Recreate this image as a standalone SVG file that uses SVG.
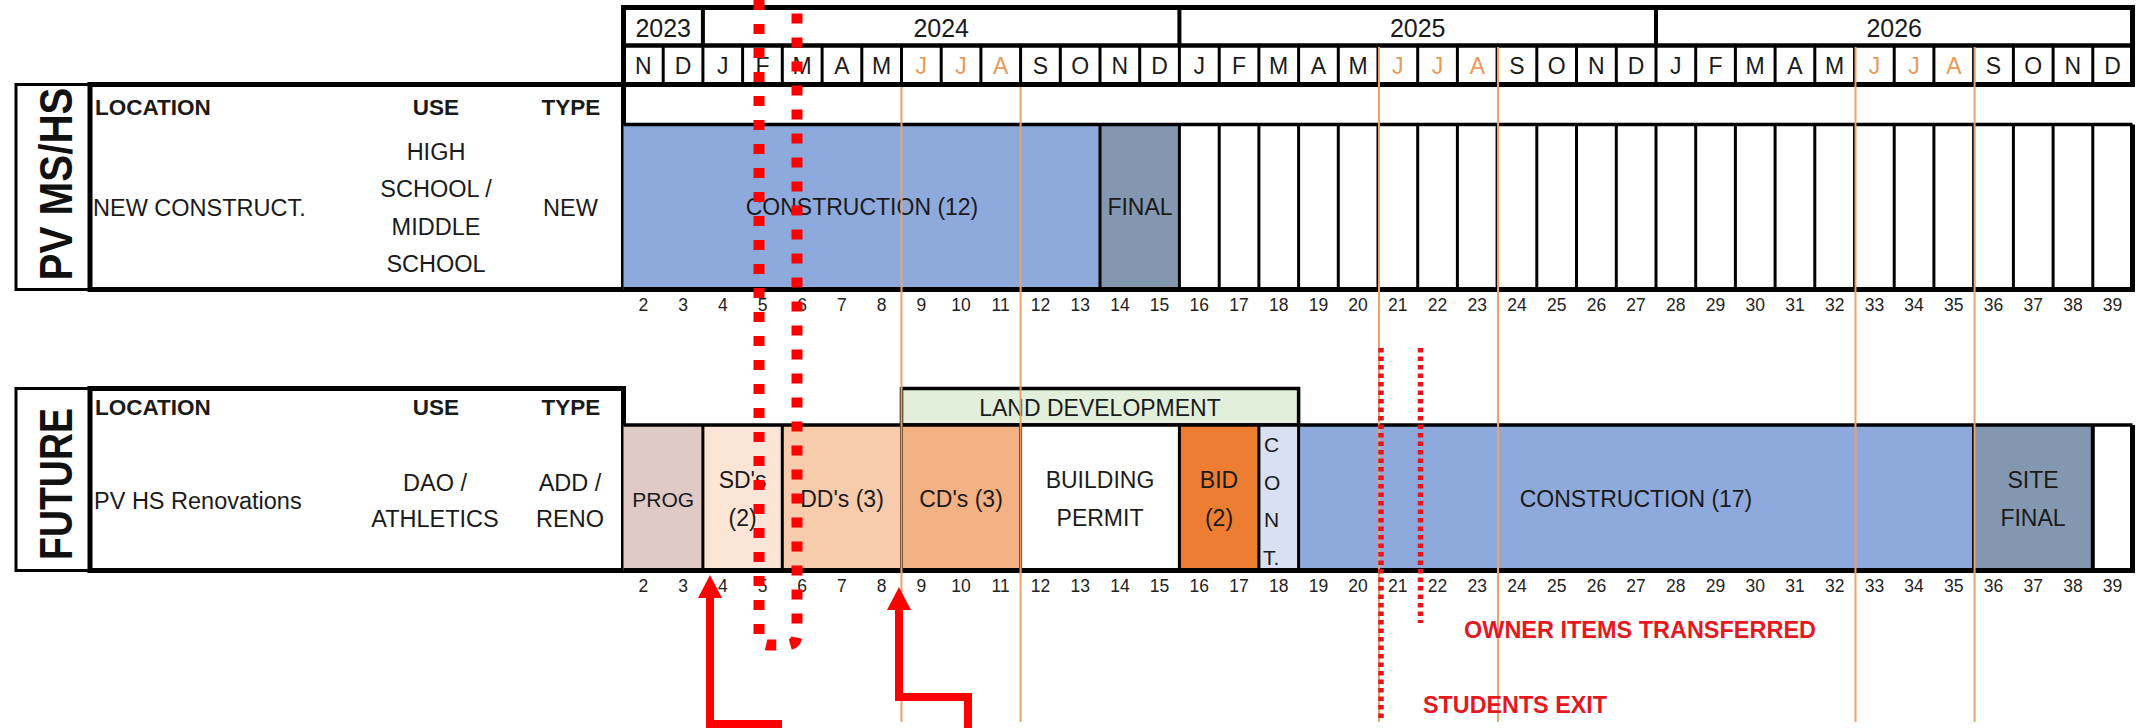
<svg xmlns="http://www.w3.org/2000/svg" width="2139" height="728" viewBox="0 0 2139 728">
<style>
text { font-family: "Liberation Sans", Arial, sans-serif; fill: #1a1a1a; }
.yr { font-size: 25px; text-anchor: middle; }
.mo { font-size: 23px; text-anchor: middle; }
.su { fill: #E89A58; }
.num { font-size: 17.5px; text-anchor: middle; fill: #222; }
.hd { font-size: 22.5px; font-weight: bold; }
.tx { font-size: 23.5px; }
.c { text-anchor: middle; }
.bt { font-size: 23px; text-anchor: middle; }
.side { font-size: 46px; font-weight: bold; text-anchor: middle; fill: #111; }
.red { fill: #E3191F; font-weight: bold; font-size: 23px; }
.ln3 { stroke: #000; stroke-width: 3; fill: none; }
.ln5 { stroke: #000; stroke-width: 5; fill: none; }
.box3 { stroke: #000; stroke-width: 3; }
.summer { stroke: #EBA36C; stroke-width: 2; fill: none; }
.arrow { stroke: #FF0000; stroke-width: 8; fill: none; stroke-linejoin: miter; }
.bigdot { stroke: #FF0000; stroke-width: 11; fill: none; stroke-dasharray: 10 14; }
.smalldot { stroke: #E8141A; stroke-width: 5.5; fill: none; stroke-dasharray: 4.5 4; }
</style>
<defs>
<marker id="head" markerUnits="userSpaceOnUse" markerWidth="24" markerHeight="24" viewBox="0 0 22 23" refX="0" refY="11.5" orient="auto">
<path d="M0 0 L22 11.5 L0 23 Z" fill="#FF0000"/>
</marker>
<g id="nums">
<text class="num" x="643.4" y="0">2</text><text class="num" x="683.1" y="0">3</text><text class="num" x="722.8" y="0">4</text><text class="num" x="762.5" y="0">5</text><text class="num" x="802.2" y="0">6</text><text class="num" x="841.9" y="0">7</text><text class="num" x="881.6" y="0">8</text><text class="num" x="921.3" y="0">9</text><text class="num" x="961.0" y="0">10</text><text class="num" x="1000.7" y="0">11</text><text class="num" x="1040.5" y="0">12</text><text class="num" x="1080.2" y="0">13</text><text class="num" x="1119.9" y="0">14</text><text class="num" x="1159.6" y="0">15</text><text class="num" x="1199.3" y="0">16</text><text class="num" x="1239.0" y="0">17</text><text class="num" x="1278.7" y="0">18</text><text class="num" x="1318.4" y="0">19</text><text class="num" x="1358.1" y="0">20</text><text class="num" x="1397.8" y="0">21</text><text class="num" x="1437.6" y="0">22</text><text class="num" x="1477.3" y="0">23</text><text class="num" x="1517.0" y="0">24</text><text class="num" x="1556.7" y="0">25</text><text class="num" x="1596.4" y="0">26</text><text class="num" x="1636.1" y="0">27</text><text class="num" x="1675.8" y="0">28</text><text class="num" x="1715.5" y="0">29</text><text class="num" x="1755.2" y="0">30</text><text class="num" x="1794.9" y="0">31</text><text class="num" x="1834.7" y="0">32</text><text class="num" x="1874.4" y="0">33</text><text class="num" x="1914.1" y="0">34</text><text class="num" x="1953.8" y="0">35</text><text class="num" x="1993.5" y="0">36</text><text class="num" x="2033.2" y="0">37</text><text class="num" x="2072.9" y="0">38</text><text class="num" x="2112.6" y="0">39</text>
</g>
</defs>
<rect width="2139" height="728" fill="#fff"/>

<g id="header">
<rect x="623.5" y="7.5" width="1509" height="77" fill="#fff" stroke="#000" stroke-width="5"/>
<line x1="623.5" y1="45.5" x2="2132.5" y2="45.5" stroke="#000" stroke-width="4.5"/>
<path d="M702.9 7.5V45.5M1179.4 7.5V45.5M1656 7.5V45.5" stroke="#000" stroke-width="4"/>
<path class="ln3" d="M663.2 45.5V84.5M702.9 45.5V84.5M742.6 45.5V84.5M782.3 45.5V84.5M822.1 45.5V84.5M861.8 45.5V84.5M901.5 45.5V84.5M941.2 45.5V84.5M980.9 45.5V84.5M1020.6 45.5V84.5M1060.3 45.5V84.5M1100 45.5V84.5M1139.7 45.5V84.5M1179.4 45.5V84.5M1219.2 45.5V84.5M1258.9 45.5V84.5M1298.6 45.5V84.5M1338.3 45.5V84.5M1378 45.5V84.5M1417.7 45.5V84.5M1457.4 45.5V84.5M1497.1 45.5V84.5M1536.8 45.5V84.5M1576.5 45.5V84.5M1616.3 45.5V84.5M1656 45.5V84.5M1695.7 45.5V84.5M1735.4 45.5V84.5M1775.1 45.5V84.5M1814.8 45.5V84.5M1854.5 45.5V84.5M1894.2 45.5V84.5M1933.9 45.5V84.5M1973.6 45.5V84.5M2013.4 45.5V84.5M2053.1 45.5V84.5M2092.8 45.5V84.5"/>
<text class="yr" x="663.2" y="37">2023</text>
<text class="yr" x="941.2" y="37">2024</text>
<text class="yr" x="1417.7" y="37">2025</text>
<text class="yr" x="1894.2" y="37">2026</text>
<text class="mo" x="643.4" y="73.5">N</text><text class="mo" x="683.1" y="73.5">D</text>
<text class="mo" x="722.8" y="73.5">J</text><text class="mo" x="762.5" y="73.5">F</text><text class="mo" x="802.2" y="73.5">M</text><text class="mo" x="841.9" y="73.5">A</text><text class="mo" x="881.6" y="73.5">M</text><text class="mo su" x="921.3" y="73.5">J</text><text class="mo su" x="961.0" y="73.5">J</text><text class="mo su" x="1000.7" y="73.5">A</text><text class="mo" x="1040.5" y="73.5">S</text><text class="mo" x="1080.2" y="73.5">O</text><text class="mo" x="1119.9" y="73.5">N</text><text class="mo" x="1159.6" y="73.5">D</text>
<text class="mo" x="1199.3" y="73.5">J</text><text class="mo" x="1239.0" y="73.5">F</text><text class="mo" x="1278.7" y="73.5">M</text><text class="mo" x="1318.4" y="73.5">A</text><text class="mo" x="1358.1" y="73.5">M</text><text class="mo su" x="1397.8" y="73.5">J</text><text class="mo su" x="1437.6" y="73.5">J</text><text class="mo su" x="1477.3" y="73.5">A</text><text class="mo" x="1517.0" y="73.5">S</text><text class="mo" x="1556.7" y="73.5">O</text><text class="mo" x="1596.4" y="73.5">N</text><text class="mo" x="1636.1" y="73.5">D</text>
<text class="mo" x="1675.8" y="73.5">J</text><text class="mo" x="1715.5" y="73.5">F</text><text class="mo" x="1755.2" y="73.5">M</text><text class="mo" x="1794.9" y="73.5">A</text><text class="mo" x="1834.7" y="73.5">M</text><text class="mo su" x="1874.4" y="73.5">J</text><text class="mo su" x="1914.1" y="73.5">J</text><text class="mo su" x="1953.8" y="73.5">A</text><text class="mo" x="1993.5" y="73.5">S</text><text class="mo" x="2033.2" y="73.5">O</text><text class="mo" x="2072.9" y="73.5">N</text><text class="mo" x="2112.6" y="73.5">D</text>
</g>

<g id="row-pv-ms-hs">
<rect x="16" y="84.5" width="74" height="205" fill="#fff" stroke="#000" stroke-width="3"/>
<text class="side" transform="translate(72,184) rotate(-90)" textLength="193" lengthAdjust="spacingAndGlyphs">PV MS/HS</text>
<rect x="90" y="84.5" width="533.5" height="205" fill="#fff" stroke="#000" stroke-width="5"/>
<text class="hd" x="95" y="115">LOCATION</text>
<text class="hd c" x="436" y="115">USE</text>
<text class="hd c" x="571" y="115">TYPE</text>
<text class="tx" x="93" y="215.5">NEW CONSTRUCT.</text>
<text class="tx c" x="436" y="159.5">HIGH</text>
<text class="tx c" x="436" y="196.5">SCHOOL /</text>
<text class="tx c" x="436" y="234.5">MIDDLE</text>
<text class="tx c" x="436" y="271.5">SCHOOL</text>
<text class="tx c" x="570.5" y="215.5">NEW</text>
<rect x="623.5" y="124.5" width="476.5" height="165" fill="#8EA9DB"/>
<rect x="1100" y="124.5" width="79.4" height="165" fill="#8497B0"/>
<rect x="1179.4" y="124.5" width="953.1" height="165" fill="#fff"/>
<path class="ln3" d="M1100 124.5V289.5M1179.4 124.5V289.5M1219.2 124.5V289.5M1258.9 124.5V289.5M1298.6 124.5V289.5M1338.3 124.5V289.5M1378 124.5V289.5M1417.7 124.5V289.5M1457.4 124.5V289.5M1497.1 124.5V289.5M1536.8 124.5V289.5M1576.5 124.5V289.5M1616.3 124.5V289.5M1656 124.5V289.5M1695.7 124.5V289.5M1735.4 124.5V289.5M1775.1 124.5V289.5M1814.8 124.5V289.5M1854.5 124.5V289.5M1894.2 124.5V289.5M1933.9 124.5V289.5M1973.6 124.5V289.5M2013.4 124.5V289.5M2053.1 124.5V289.5M2092.8 124.5V289.5"/>
<line x1="623.5" y1="124.5" x2="2132.5" y2="124.5" stroke="#000" stroke-width="3.5"/>
<path class="ln5" d="M623.5 289.5H2132.5V124.5"/>
<text class="bt" x="862" y="215">CONSTRUCTION (12)</text>
<text class="bt" x="1140" y="215">FINAL</text>
<use href="#nums" y="311"/>
</g>

<g id="row-future">
<rect x="16" y="388.5" width="74" height="182" fill="#fff" stroke="#000" stroke-width="3"/>
<text class="side" transform="translate(72,484) rotate(-90)" textLength="152" lengthAdjust="spacingAndGlyphs">FUTURE</text>
<rect x="90" y="388.5" width="533.5" height="182" fill="#fff" stroke="#000" stroke-width="5"/>
<text class="hd" x="95" y="415">LOCATION</text>
<text class="hd c" x="436" y="415">USE</text>
<text class="hd c" x="571" y="415">TYPE</text>
<text class="tx" x="94" y="508.5">PV HS Renovations</text>
<text class="tx c" x="435" y="490.5">DAO /</text>
<text class="tx c" x="435" y="526.5">ATHLETICS</text>
<text class="tx c" x="570" y="490.5">ADD /</text>
<text class="tx c" x="570" y="526.5">RENO</text>
</g>

<g id="land-development">
<rect x="901.5" y="388.5" width="397.1" height="36.5" fill="#E2EFDA" stroke="#000" stroke-width="3.5"/>
<text class="bt" x="1100" y="415.5">LAND DEVELOPMENT</text>
</g>

<g id="phases">
<rect x="623.5" y="425" width="79.4" height="145.5" fill="#DFCAC6"/>
<rect x="702.9" y="425" width="79.4" height="145.5" fill="#FCE4D6"/>
<rect x="782.3" y="425" width="119.2" height="145.5" fill="#F8CBAD"/>
<rect x="901.5" y="425" width="119.1" height="145.5" fill="#F4B183"/>
<rect x="1020.6" y="425" width="158.8" height="145.5" fill="#fff"/>
<rect x="1179.4" y="425" width="79.5" height="145.5" fill="#ED7D31"/>
<rect x="1258.9" y="425" width="39.7" height="145.5" fill="#D9E0F3"/>
<rect x="1298.6" y="425" width="675" height="145.5" fill="#8EA9DB"/>
<rect x="1973.6" y="425" width="119.2" height="145.5" fill="#8497B0"/>
<rect x="2092.8" y="425" width="39.7" height="145.5" fill="#fff"/>
<path class="ln3" d="M702.9 425V570.5M782.3 425V570.5M901.5 425V570.5M1020.6 425V570.5M1179.4 425V570.5M1258.9 425V570.5M1298.6 425V570.5M1973.6 425V570.5"/>
<path d="M2092.8 425V570.5" stroke="#000" stroke-width="4"/>
<line x1="623.5" y1="425" x2="2132.5" y2="425" stroke="#000" stroke-width="3.5"/>
<path class="ln5" d="M623.5 570.5H2132.5V425"/>
<text class="bt" x="663.2" y="506.5" style="font-size:21px">PROG</text>
<text class="bt" x="742.6" y="487.5">SD's</text>
<text class="bt" x="742.6" y="525.5">(2)</text>
<text class="bt" x="842" y="506.5">DD's (3)</text>
<text class="bt" x="961" y="506.5">CD's (3)</text>
<text class="bt" x="1100" y="487.5">BUILDING</text>
<text class="bt" x="1100" y="525.5">PERMIT</text>
<text class="bt" x="1219" y="487.5">BID</text>
<text class="bt" x="1219" y="525.5">(2)</text>
<text x="1264" y="452" style="font-size:21px">C</text>
<text x="1264" y="490" style="font-size:21px">O</text>
<text x="1264" y="527" style="font-size:21px">N</text>
<text x="1263" y="565" style="font-size:21px">T.</text>
<text class="bt" x="1636" y="506.5">CONSTRUCTION (17)</text>
<text class="bt" x="2033" y="487.5">SITE</text>
<text class="bt" x="2033" y="525.5">FINAL</text>
<use href="#nums" y="592"/>
</g>

<g id="summer-lines">
<path class="summer" d="M901.5 87V722M1020.6 87V722M1379 47V722M1498 47V722M1855.5 47V722M1974.6 47V722"/>
</g>

<g id="annotations">
<path class="smalldot" d="M1381 348V718"/>
<path class="smalldot" d="M1420.5 348V623"/>
<text class="red" x="1640" y="638" text-anchor="middle" textLength="352" lengthAdjust="spacingAndGlyphs">OWNER ITEMS TRANSFERRED</text>
<text class="red" x="1423" y="713" textLength="184" lengthAdjust="spacingAndGlyphs">STUDENTS EXIT</text>
</g>

<g id="connectors">
<path class="bigdot" d="M759 0V634Q759 645 770 645H786Q797 645 797 634V0"/>
<path class="arrow" d="M778 740V724H710V598" marker-end="url(#head)"/>
<path class="arrow" d="M968 740V697H899V610" marker-end="url(#head)"/>
</g>
</svg>
